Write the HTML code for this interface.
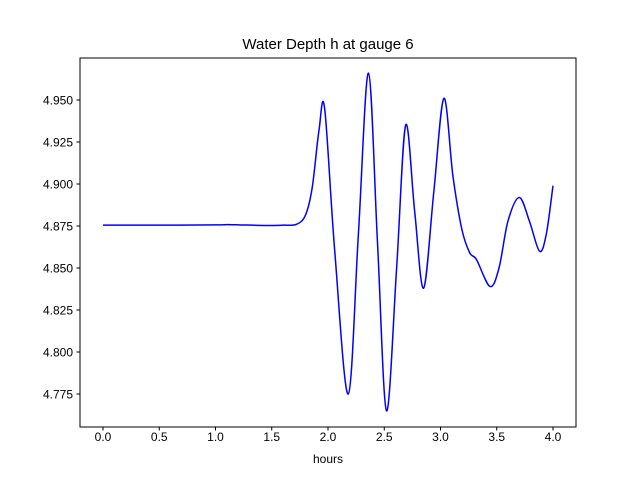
<!DOCTYPE html>
<html><head><meta charset="utf-8"><style>
html,body{margin:0;padding:0;background:#fff;}
svg text{font-family:"Liberation Sans","DejaVu Sans",sans-serif;}
</style></head>
<body>
<svg id="chart" width="640" height="480" viewBox="0 0 640 480">
<rect x="0" y="0" width="640" height="480" fill="#fff"/>
<text x="328" y="49" font-size="15" text-anchor="middle">Water Depth h at gauge 6</text>
<g id="xticks"></g>
<g id="yticks"></g>
<path id="line" fill="none" stroke="#0000ff" stroke-width="1.5"/>
<rect x="80" y="58" width="496" height="369" fill="none" stroke="#000" stroke-width="1"/>
<text x="328" y="463" font-size="12" text-anchor="middle">hours</text>
</svg>
<script>
const hours = [0,0.5,1.0,1.1,1.2,1.45,1.6,1.72,1.8,1.86,1.92,1.97,2.06,2.18,2.27,2.36,2.44,2.52,2.61,2.69,2.77,2.85,2.94,3.03,3.11,3.19,3.26,3.32,3.44,3.52,3.6,3.70,3.79,3.88,3.94,4.0];
const depth = [4.8755,4.8755,4.8757,4.8758,4.8757,4.8753,4.8755,4.876,4.8815,4.898,4.932,4.945,4.86,4.775,4.87,4.966,4.865,4.765,4.85,4.935,4.884,4.838,4.895,4.951,4.905,4.873,4.859,4.855,4.839,4.85,4.878,4.892,4.878,4.860,4.87,4.899];
const xTickVals = [0,0.5,1,1.5,2,2.5,3,3.5,4];
const xTickLabels = ["0.0","0.5","1.0","1.5","2.0","2.5","3.0","3.5","4.0"];
const yTickVals = [4.775,4.8,4.825,4.85,4.875,4.9,4.925,4.95];
const yTickLabels = ["4.775","4.800","4.825","4.850","4.875","4.900","4.925","4.950"];

const NS = "http://www.w3.org/2000/svg";
function xs(t){ return 103 + t*112.5; }
function ys(v){ return 100 + (4.95 - v)*1680; }

const xg = document.getElementById('xticks');
xTickVals.forEach((t,i)=>{
  const l = document.createElementNS(NS,'line');
  l.setAttribute('x1',xs(t)); l.setAttribute('x2',xs(t));
  l.setAttribute('y1',427); l.setAttribute('y2',430.5);
  l.setAttribute('stroke','#000');
  
  
  xg.appendChild(l);
  const tx = document.createElementNS(NS,'text');
  tx.setAttribute('x',xs(t)); tx.setAttribute('y',441);
  tx.setAttribute('font-size','12'); tx.setAttribute('text-anchor','middle');
  tx.textContent = xTickLabels[i];
  
  
  xg.appendChild(tx);
});
const yg = document.getElementById('yticks');
yTickVals.forEach((v,i)=>{
  const l = document.createElementNS(NS,'line');
  l.setAttribute('x1',76.5); l.setAttribute('x2',80);
  l.setAttribute('y1',ys(v)); l.setAttribute('y2',ys(v));
  l.setAttribute('stroke','#000');
  
  
  yg.appendChild(l);
  const tx = document.createElementNS(NS,'text');
  tx.setAttribute('x',73); tx.setAttribute('y',ys(v)+4.5);
  tx.setAttribute('font-size','12'); tx.setAttribute('text-anchor','end');
  tx.textContent = yTickLabels[i];
  
  
  yg.appendChild(tx);
});

const pts = hours.map((t,i)=>[xs(t), ys(depth[i])]);
let d = "M"+pts[0][0]+","+pts[0][1];
for(let i=0;i<pts.length-1;i++){
  const p0 = pts[Math.max(0,i-1)], p1 = pts[i], p2 = pts[i+1], p3 = pts[Math.min(pts.length-1,i+2)];
  const c1x = p1[0] + (p2[0]-p0[0])/6, c1y = p1[1] + (p2[1]-p0[1])/6;
  const c2x = p2[0] - (p3[0]-p1[0])/6, c2y = p2[1] - (p3[1]-p1[1])/6;
  d += " C"+c1x+","+c1y+" "+c2x+","+c2y+" "+p2[0]+","+p2[1];
}
document.getElementById('line').setAttribute('d', d);
</script>
</body></html>
